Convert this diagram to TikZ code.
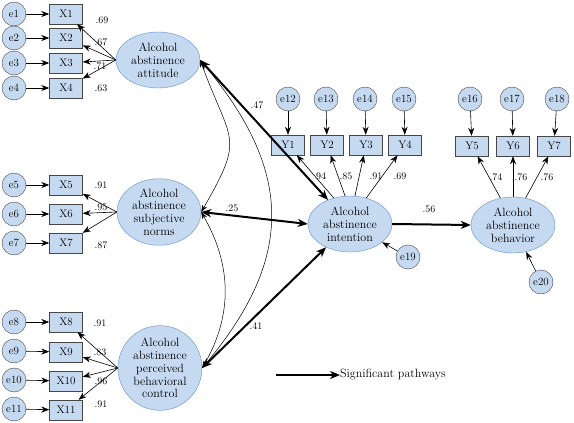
\documentclass[tikz,border=0pt]{standalone}
\usetikzlibrary{shapes.geometric,arrows.meta}
\definecolor{semfill}{RGB}{197,217,240}
\definecolor{semline}{RGB}{96,145,200}
\definecolor{boxline}{RGB}{70,70,70}
\begin{document}
\begin{tikzpicture}[x=1pt,y=-1pt,
    err/.style={draw=boxline,fill=semfill,circle,minimum size=24pt,inner sep=0pt,font=\fontsize{11}{12}\selectfont},
    obs/.style={draw=boxline,fill=semfill,rectangle,minimum width=33pt,minimum height=20pt,inner sep=0pt,font=\fontsize{11}{12}\selectfont},
    lat/.style={draw=semline,fill=semfill,ellipse,minimum width=84pt,minimum height=56pt,inner sep=0pt,align=center,font=\fontsize{12}{12.8}\selectfont},
    load/.style={font=\fontsize{10}{11}\selectfont,inner sep=0pt},
    thin/.style={line width=0.6pt,-{Stealth[length=8pt,width=6pt,inset=2.5pt]}},
    cov/.style={line width=0.5pt,{Stealth[length=7pt,width=5pt,inset=2pt]}-{Stealth[length=7pt,width=5pt,inset=2pt]}},
    sig/.style={line width=2pt,{Stealth[length=10pt,width=8pt,inset=3pt]}-{Stealth[length=10pt,width=8pt,inset=3pt]}},
    sigone/.style={line width=2pt,-{Stealth[length=10pt,width=8pt,inset=3pt]}}]
  \useasboundingbox (0,0) rectangle (574,423);
  % latent variables
  \node[lat] (att) at (158,60) {Alcohol\\abstinence\\attitude};
  \node[lat,minimum height=64pt] (norm) at (159,212) {Alcohol\\abstinence\\subjective\\norms};
  \node[lat,minimum height=78pt] (pbc) at (160,368) {Alcohol\\abstinence\\perceived\\behavioral\\control};
  \node[lat] (int) at (350,224) {Alcohol\\abstinence\\intention};
  \node[lat] (beh) at (513,225) {Alcohol\\abstinence\\behavior};
  % attitude indicators
  \node[err] (e1) at (14,14) {e1};
  \node[err] (e2) at (14,38) {e2};
  \node[err] (e3) at (14,63) {e3};
  \node[err] (e4) at (14,88) {e4};
  \node[obs] (X1) at (66,14) {X1};
  \node[obs] (X2) at (66,38) {X2};
  \node[obs] (X3) at (66,63) {X3};
  \node[obs] (X4) at (66,88) {X4};
  % norms indicators
  \node[err] (e5) at (14,185) {e5};
  \node[err] (e6) at (14,214) {e6};
  \node[err] (e7) at (14,243) {e7};
  \node[obs] (X5) at (66,185) {X5};
  \node[obs] (X6) at (66,214) {X6};
  \node[obs] (X7) at (66,243) {X7};
  % pbc indicators
  \node[err] (e8) at (14,322) {e8};
  \node[err] (e9) at (14,351) {e9};
  \node[err] (e10) at (14,380) {e10};
  \node[err] (e11) at (14,409) {e11};
  \node[obs] (X8) at (66,322) {X8};
  \node[obs] (X9) at (66,352) {X9};
  \node[obs] (X10) at (66,381) {X10};
  \node[obs] (X11) at (66,410) {X11};
  % intention indicators
  \node[err] (e12) at (288,99) {e12};
  \node[err] (e13) at (326,99) {e13};
  \node[err] (e14) at (365,99) {e14};
  \node[err] (e15) at (404,99) {e15};
  \node[obs] (Y1) at (288,145) {Y1};
  \node[obs] (Y2) at (327,145) {Y2};
  \node[obs] (Y3) at (366,145) {Y3};
  \node[obs] (Y4) at (405,145) {Y4};
  \node[err] (e19) at (408,257) {e19};
  % behavior indicators
  \node[err] (e16) at (470,99) {e16};
  \node[err] (e17) at (512,99) {e17};
  \node[err] (e18) at (557,99) {e18};
  \node[obs] (Y5) at (472,146) {Y5};
  \node[obs] (Y6) at (513,146) {Y6};
  \node[obs] (Y7) at (554,146) {Y7};
  \node[err] (e20) at (541,282) {e20};
  % errors
  \draw[thin] (e1) -- (X1);
  \draw[thin] (e2) -- (X2);
  \draw[thin] (e3) -- (X3);
  \draw[thin] (e4) -- (X4);
  \draw[thin] (e5) -- (X5);
  \draw[thin] (e6) -- (X6);
  \draw[thin] (e7) -- (X7);
  \draw[thin] (e8) -- (X8);
  \draw[thin] (e9) -- (X9);
  \draw[thin] (e10) -- (X10);
  \draw[thin] (e11) -- (X11);
  \draw[thin] (e12) -- (Y1);
  \draw[thin] (e13) -- (Y2);
  \draw[thin] (e14) -- (Y3);
  \draw[thin] (e15) -- (Y4);
  \draw[thin] (e16) -- (Y5);
  \draw[thin] (e17) -- (Y6);
  \draw[thin] (e18) -- (Y7);
  \draw[thin] (e19) -- (int);
  \draw[thin] (e20) -- (beh);
  % loadings
  \draw[thin] (att.west) -- (X1);
  \draw[thin] (att.west) -- (X2);
  \draw[thin] (att.west) -- (X3);
  \draw[thin] (att.west) -- (X4);
  \draw[thin] (norm.west) -- (X5);
  \draw[thin] (norm.west) -- (X6);
  \draw[thin] (norm.west) -- (X7);
  \draw[thin] (pbc.west) -- (X8);
  \draw[thin] (pbc.west) -- (X9);
  \draw[thin] (pbc.west) -- (X10);
  \draw[thin] (pbc.west) -- (X11);
  \draw[thin] (int.122) -- (Y1);
  \draw[thin] (int.100) -- (Y2);
  \draw[thin] (int.80) -- (Y3);
  \draw[thin] (int.58) -- (Y4);
  \draw[thin] (beh.115) -- (Y5);
  \draw[thin] (beh.north) -- (Y6);
  \draw[thin] (beh.65) -- (Y7);
  \node[load] (l1) at (102,20) {.69};
  \node[load] (l2) at (101,42) {.67};
  \node[load] (l3) at (100,66) {.71};
  \node[load] (l4) at (101,88) {.63};
  \node[load] (l5) at (101,185) {.91};
  \node[load] (l6) at (101,207) {.95};
  \node[load] (l7) at (101,245) {.87};
  \node[load] (l8) at (100,323) {.91};
  \node[load] (l9) at (100,352) {.83};
  \node[load] (l10) at (101,381) {.96};
  \node[load] (l11) at (101,404) {.91};
  \node[load] (l12) at (321,176) {94};
  \node[load] (l13) at (346,176) {.85};
  \node[load] (l14) at (376,176) {.91};
  \node[load] (l15) at (400,176) {.69};
  \node[load] (l16) at (496,177) {.74};
  \node[load] (l17) at (521,177) {.76};
  \node[load] (l18) at (547,177) {.76};
  % covariances
  \draw[cov] (att.east) to[out=-70,in=60,looseness=1.5] (norm.east);
  \draw[cov] (att.east) to[out=-50,in=50,looseness=1.2] (pbc.east);
  \draw[cov] (norm.east) to[out=-60,in=60] (pbc.east);
  % structural paths
  \draw[sig] (att.east) -- (int);
  \draw[sig] (norm.east) -- (int.west);
  \draw[sig] (pbc.east) -- (int);
  \draw[sigone] (int.east) -- (beh.west);
  \node[load] (p1) at (257,105) {.47};
  \node[load] (p2) at (232,208) {.25};
  \node[load] (p3) at (256,326) {.41};
  \node[load] (p4) at (429,209) {.56};
  % legend
  \coordinate (leg) at (276,375);
  \node[anchor=west,inner sep=0pt,font=\fontsize{12}{13}\selectfont] (legtext) at (340,375) {Significant pathways};
  \draw[sigone,line width=1.5pt] (leg) -- (legtext.west);
\end{tikzpicture}
\end{document}
